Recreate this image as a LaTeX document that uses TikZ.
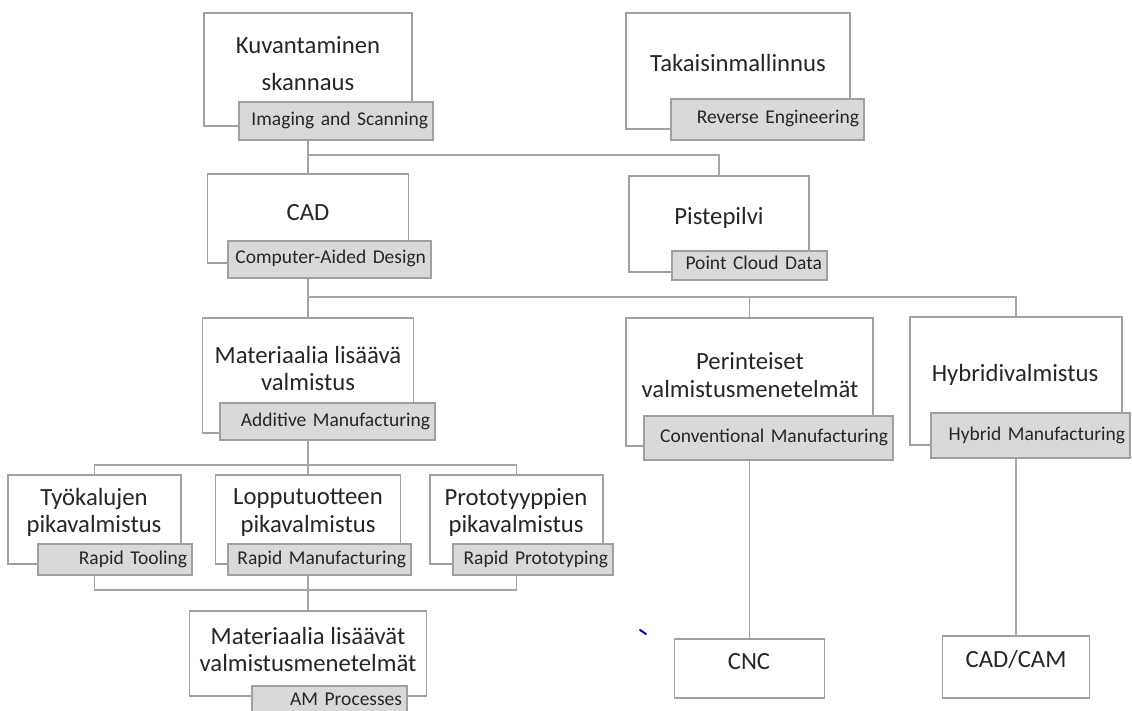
\documentclass[tikz,border=0pt]{standalone}
\usepackage{fontspec}
\setmainfont{Carlito}
\definecolor{boxgray}{HTML}{A0A0A0}
\definecolor{linegray}{HTML}{A6A6A6}
\definecolor{labfill}{HTML}{D9D9D9}
\definecolor{txtcol}{HTML}{262626}
\begin{document}
\begin{tikzpicture}[x=1pt,y=-1pt,
  box/.style={draw=boxgray, line width=1.3pt, fill=white, inner sep=0},
  lab/.style={draw=boxgray, line width=1.3pt, fill=labfill, inner sep=0, text=txtcol,
    font=\fontsize{19.5}{22}\selectfont, align=right, text height=13pt, text depth=4pt},
  txt/.style={text=txtcol, font=\fontsize{24.7}{27.5}\selectfont, align=center, inner sep=0},
  conn/.style={draw=linegray, line width=1.7pt}]
\useasboundingbox (0,0) rectangle (1132,711);
% connectors
\coordinate (j1) at (308,155);
\coordinate (j2) at (308,297);
\coordinate (j3) at (308,465);
\coordinate (j4) at (308,590);
% boxes
\node[box, minimum width=208pt, minimum height=113pt] (kuv) at (308,69.5) {};
\node[box, minimum width=224pt, minimum height=116pt] (tak) at (738,71) {};
\node[box, minimum width=201pt, minimum height=89pt] (cad) at (308,218.5) {};
\node[box, minimum width=180pt, minimum height=96pt] (pis) at (719,224) {};
\node[box, minimum width=211pt, minimum height=115pt] (mat) at (308,375.5) {};
\node[box, minimum width=247pt, minimum height=128pt] (per) at (749.5,382) {};
\node[box, minimum width=212pt, minimum height=128pt] (hyb) at (1016,381) {};
\node[box, minimum width=173pt, minimum height=89pt] (tyo) at (94.5,519.5) {};
\node[box, minimum width=185pt, minimum height=89pt] (lop) at (308,519.5) {};
\node[box, minimum width=173pt, minimum height=89pt] (pro) at (516.5,519.5) {};
\node[box, minimum width=237pt, minimum height=85pt] (amp) at (308,653.5) {};
\node[box, minimum width=150pt, minimum height=59pt] (cnc) at (749.5,668.5) {};
\node[box, minimum width=147pt, minimum height=62pt] (cam) at (1016,667) {};
% main texts
\node[txt, font=\fontsize{24.7}{37}\selectfont] (kuvT) at (308,63.5) {Kuvantaminen\\skannaus};
\node[txt] (takT) at (738,63) {Takaisinmallinnus};
\node[txt] (cadT) at (308,213) {CAD};
\node[txt] (pisT) at (719,218) {Pistepilvi};
\node[txt] (matT) at (308,368.5) {Materiaalia lisäävä\\valmistus};
\node[txt] (perT) at (750,375) {Perinteiset\\valmistusmenetelmät};
\node[txt] (hybT) at (1015,375) {Hybridivalmistus};
\node[txt] (tyoT) at (94,512.5) {Työkalujen\\pikavalmistus};
\node[txt] (lopT) at (308,512.5) {Lopputuotteen\\pikavalmistus};
\node[txt] (proT) at (516,512.5) {Prototyyppien\\pikavalmistus};
\node[txt] (ampT) at (308,649.5) {Materiaalia lisäävät\\valmistusmenetelmät};
\node[txt] (cncT) at (749,662) {CNC};
\node[txt] (camT) at (1016,659) {CAD/CAM};
% labels
\node[lab, minimum width=194pt, minimum height=38pt, text width=184pt] (kuvL) at (336,121) {Imaging and Scanning};
\node[lab, minimum width=193pt, minimum height=41pt, text width=183pt] (takL) at (767.5,119.5) {Reverse Engineering};
\node[lab, minimum width=203pt, minimum height=37pt, text width=193pt] (cadL) at (329.5,259.5) {Computer-Aided Design};
\node[lab, minimum width=155pt, minimum height=29pt, text width=145pt] (pisL) at (749.5,265.5) {Point Cloud Data};
\node[lab, minimum width=215pt, minimum height=37pt, text width=205pt] (matL) at (327.5,421.5) {Additive Manufacturing};
\node[lab, minimum width=249pt, minimum height=44pt, text width=239pt] (perL) at (768.5,438) {Conventional Manufacturing};
\node[lab, minimum width=199pt, minimum height=45pt, text width=189pt] (hybL) at (1030.5,435.5) {Hybrid Manufacturing};
\node[lab, minimum width=154pt, minimum height=31pt, text width=144pt] (tyoL) at (115,559.5) {Rapid Tooling};
\node[lab, minimum width=183pt, minimum height=31pt, text width=173pt] (lopL) at (319.5,559.5) {Rapid Manufacturing};
\node[lab, minimum width=160pt, minimum height=31pt, text width=150pt] (proL) at (533,559.5) {Rapid Prototyping};
\node[lab, minimum width=155pt, minimum height=30pt, text width=145pt] (ampL) at (329.5,701) {AM Processes};
% connector lines
\begin{scope}[on background layer/.style={}]
\end{scope}
\draw[conn] (kuv.south |- kuvL.south) -- (j1) -| (pis.north);
\draw[conn] (j1) -- (cad.north);
\draw[conn] (cad.south |- cadL.south) -- (j2) -- (mat.north);
\draw[conn] (j2) -| (per.north);
\draw[conn] (j2) -| (hyb.north);
\draw[conn] (mat.south |- matL.south) -- (j3) -- (lop.north);
\draw[conn] (j3) -| (tyo.north);
\draw[conn] (j3) -| (pro.north);
\draw[conn] (tyo.south |- tyoL.south) |- (j4);
\draw[conn] (pro.south |- proL.south) |- (j4);
\draw[conn] (lop.south |- lopL.south) -- (amp.north);
\draw[conn] (per.south |- perL.south) -- (cnc.north);
\draw[conn] (hyb.south |- hybL.south) -- (cam.north);
% stray mark
\draw[draw=blue!75!black, line width=2pt, line cap=round] (640,630) -- (646,634);
\end{tikzpicture}
\end{document}
